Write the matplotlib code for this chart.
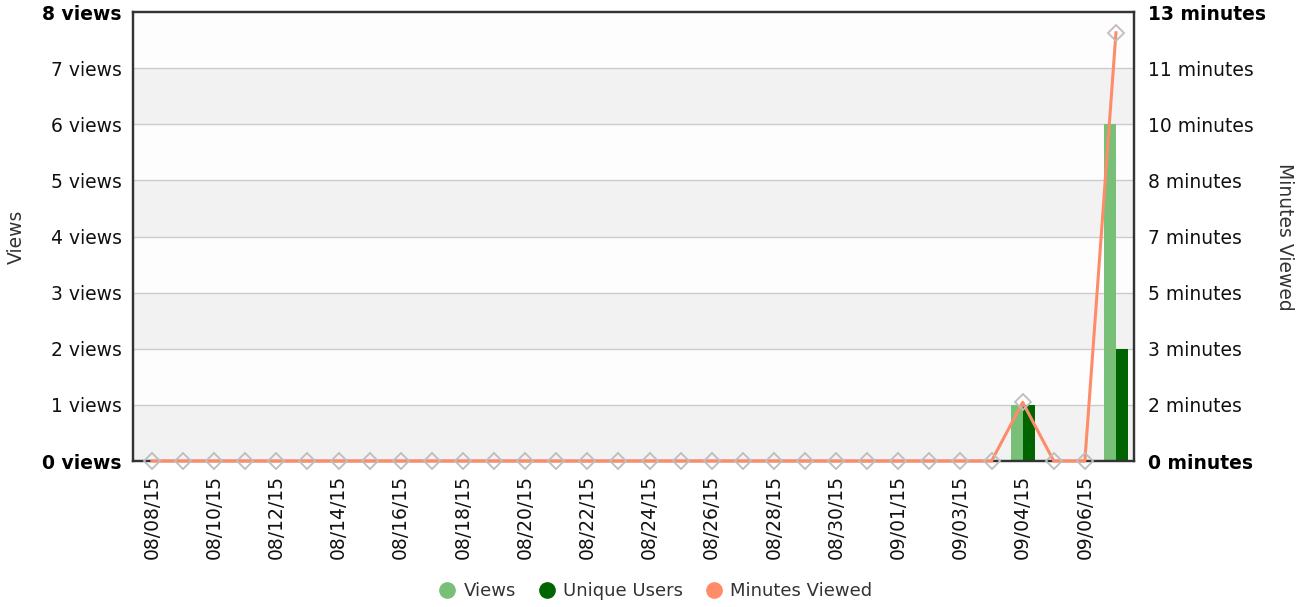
import numpy as np
import matplotlib
matplotlib.use("Agg")
import matplotlib.pyplot as plt
from matplotlib.lines import Line2D

plt.rcParams['font.family'] = ['DejaVu Sans']

# daily stats, one value per point (32 points), labels on every other point
date_labels = ["08/08/15", "08/10/15", "08/12/15", "08/14/15", "08/16/15", "08/18/15",
               "08/20/15", "08/22/15", "08/24/15", "08/26/15", "08/28/15", "08/30/15",
               "09/01/15", "09/03/15", "09/04/15", "09/06/15"]
views = [0] * 28 + [1, 0, 0, 6]
unique_users = [0] * 28 + [1, 0, 0, 2]
minutes_viewed = [0] * 28 + [1.7, 0, 0, 12.4]

view_ticks = [0, 1, 2, 3, 4, 5, 6, 7, 8]
view_labels = ["0 views", "1 views", "2 views", "3 views", "4 views",
               "5 views", "6 views", "7 views", "8 views"]
minute_labels = ["0 minutes", "2 minutes", "3 minutes", "5 minutes", "7 minutes",
                 "8 minutes", "10 minutes", "11 minutes", "13 minutes"]
minute_max = 13

c_views = "#78c078"
c_users = "#006400"
c_minutes = "#ff8c69"
txt = "#333333"
fs = 13.5

fig = plt.figure(figsize=(13.09, 6.07), dpi=100)
ax = fig.add_axes([0.1016, 0.2405, 0.7647, 0.7397])
ax2 = ax.twinx()

x = np.arange(len(views))
ax.set_xlim(-0.61, len(views) - 1 + 0.58)
ax.set_ylim(0, 8)
ax2.set_ylim(0, minute_max)

# alternating bands + grid
for i in range(8):
    ax.axhspan(i, i + 1, color="#f2f2f2" if i % 2 == 0 else "#fdfdfd", lw=0, zorder=0)
for v in view_ticks[1:-1]:
    ax.axhline(v, color="#cccccc", lw=1, zorder=1)

w = 0.386
ax.bar(x - w / 2, views, width=w, color=c_views, zorder=2)
ax.bar(x + w / 2, unique_users, width=w, color=c_users, zorder=2)

ax2.plot(x, minutes_viewed, color="#bbbbbb", lw=0.8, zorder=3, clip_on=False)
ax2.plot(x, minutes_viewed, color=c_minutes, lw=2.2, zorder=4, clip_on=False,
         marker="D", markersize=8, markerfacecolor="none",
         markeredgecolor="#bdbdbd", markeredgewidth=1.3)

for a in (ax, ax2):
    for s in a.spines.values():
        s.set_color("#333333")
        s.set_linewidth(1.6)
ax2.set_zorder(ax.get_zorder() + 1)
ax2.patch.set_visible(False)

ax.set_yticks(view_ticks)
ax.set_yticklabels(view_labels)
ax2.set_yticks(np.linspace(0, minute_max, 9))
ax2.set_yticklabels(minute_labels)
ax.tick_params(axis="y", length=0, pad=8, labelsize=fs, labelcolor="#111111")
ax2.tick_params(axis="y", length=0, pad=10, labelsize=fs, labelcolor="#111111")
for labs in (ax.get_yticklabels(), ax2.get_yticklabels()):
    for lab in (labs[0], labs[-1]):
        lab.set_fontweight("bold")
        lab.set_color("black")

ax.set_xticks(x[::2])
ax.set_xticklabels(date_labels, rotation=90)
ax.tick_params(axis="x", length=0, pad=10, labelsize=fs, labelcolor="#111111")

ax.set_ylabel("Views", fontsize=fs, color=txt, labelpad=12)
ax2.set_ylabel("Minutes Viewed", fontsize=fs, color=txt, rotation=-90, labelpad=20)

handles = [Line2D([], [], ls="none", marker="o", markersize=11, color=c)
           for c in (c_views, c_users, c_minutes)]
fig.legend(handles, ["Views", "Unique Users", "Minutes Viewed"], loc="center",
           bbox_to_anchor=(0.497, 0.026), ncol=3, frameon=False, fontsize=13,
           handletextpad=-0.1, columnspacing=0.7, labelcolor=txt)

fig.savefig("out.png", dpi=100)
